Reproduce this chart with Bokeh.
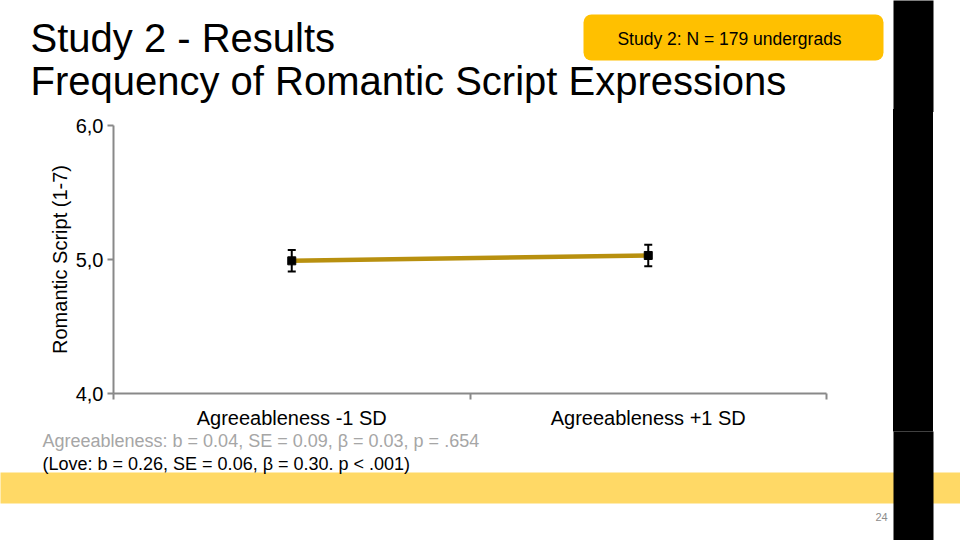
from bokeh.plotting import figure
from bokeh.layouts import column, row, Spacer
from bokeh.models import Range1d, FixedTicker, Whisker, TeeHead, ColumnDataSource
from bokeh.core.properties import value
from bokeh.embed import file_html
from bokeh.resources import INLINE

# ---- data ----
categories = ["Agreeableness -1 SD", "Agreeableness +1 SD"]
cat_pos = [0.5, 1.5]
means = [4.99, 5.03]
errors = [0.08, 0.08]
y_ticks = [4.0, 5.0, 6.0]
y_tick_labels = ["4,0", "5,0", "6,0"]
title_lines = ["Study 2 - Results", "Frequency of Romantic Script Expressions"]
sample_note = "Study 2: N = 179 undergrads"
stat_lines = ["Agreeableness: b = 0.04, SE = 0.09, β = 0.03,  p = .654",
              "(Love: b = 0.26, SE = 0.06, β = 0.30.  p < .001)"]
y_label = "Romantic Script (1-7)"
page_no = "24"

FONT = "Liberation Sans"
W, H = 960, 540
TOP_H = 112          # header strip height
MID_H = 319          # chart strip height
BOT_H = H - TOP_H - MID_H
CHART_W = 893        # chart figure width (black bar starts here)
BAR_W = 40
FL, FT, FR, FB = 113, 125, 826, 393   # chart frame in page pixels


def panel(width, height):
    f = figure(width=width, height=height, output_backend="svg", toolbar_location=None,
               x_range=Range1d(0, width), y_range=Range1d(height, 0),
               x_axis_location=None, y_axis_location=None,
               min_border_left=0, min_border_right=0, min_border_top=0, min_border_bottom=0)
    f.outline_line_color = None
    f.grid.visible = False
    f.background_fill_color = "white"
    f.border_fill_color = "white"
    return f


def txt(f, x, y, text, size, color="black", align="left"):
    f.text(x=[x], y=[y], text=[text], text_font=value(FONT), text_font_size=value(size),
           text_color=color, text_align=align, text_baseline="middle")


# ---- header ----
top = panel(W, TOP_H)
top.quad(left=[583], right=[883], top=[14], bottom=[60], fill_color="#FFC000",
         line_color=None, border_radius=8)
top.quad(left=[893], right=[893 + BAR_W], top=[-5], bottom=[TOP_H + 5], fill_color="black", line_color=None)
txt(top, 30, 37, title_lines[0], "40px")
txt(top, 30, 80.5, title_lines[1], "40px")
txt(top, 729, 38, sample_note, "17.5px", align="center")

# ---- chart ----
p = figure(width=CHART_W, height=MID_H, output_backend="svg", toolbar_location=None,
           x_range=Range1d(0, 2), y_range=Range1d(4, 6),
           min_border_left=FL, min_border_right=CHART_W - FR,
           min_border_top=FT - TOP_H, min_border_bottom=TOP_H + MID_H - FB)
p.outline_line_color = None
p.xgrid.visible = False
p.ygrid.visible = False

ax = p.yaxis[0]
ax.ticker = FixedTicker(ticks=y_ticks, minor_ticks=[])
ax.major_label_overrides = {t: l for t, l in zip(y_ticks, y_tick_labels)}
ax.axis_label = y_label
ax.axis_label_text_font = FONT
ax.axis_label_text_font_style = "normal"
ax.axis_label_text_font_size = "20px"
ax.axis_label_text_color = "black"
ax.axis_label_standoff = 2
ax.major_label_text_font = FONT
ax.major_label_text_font_size = "20px"
ax.major_label_text_color = "black"
ax.major_label_standoff = 4
ax.major_tick_out = 6
ax.major_tick_in = 0
ax.axis_line_color = "#898989"
ax.axis_line_width = 2
ax.major_tick_line_color = "#898989"
ax.major_tick_line_width = 2

xa = p.xaxis[0]
xa.ticker = FixedTicker(ticks=cat_pos, minor_ticks=[0, 1, 2])
xa.major_label_overrides = {c: l for c, l in zip(cat_pos, categories)}
xa.major_label_text_font = FONT
xa.major_label_text_font_size = "20px"
xa.major_label_text_color = "black"
xa.major_tick_line_color = None
xa.major_tick_out = 0
xa.major_tick_in = 0
xa.major_label_standoff = 7
xa.minor_tick_out = 6
xa.minor_tick_in = 0
xa.minor_tick_line_color = "#898989"
xa.minor_tick_line_width = 2
xa.axis_line_color = "#898989"
xa.axis_line_width = 2

src = ColumnDataSource(dict(x=cat_pos, y=means,
                            lo=[m - e for m, e in zip(means, errors)],
                            hi=[m + e for m, e in zip(means, errors)]))
p.line("x", "y", source=src, line_color="#B8900F", line_width=4.5)
p.add_layout(Whisker(source=src, base="x", lower="lo", upper="hi", dimension="height",
                     line_color="black", line_width=2,
                     lower_head=TeeHead(size=8, line_color="black", line_width=2),
                     upper_head=TeeHead(size=8, line_color="black", line_width=2)))
p.scatter("x", "y", source=src, marker="square", size=8, fill_color="black", line_color="black")

side = Spacer(width=BAR_W, height=MID_H,
              styles={"background-color": "black",
                      "box-shadow": "0 3px 0 black, 0 -3px 0 black"})
gap = Spacer(width=W - CHART_W - BAR_W, height=MID_H)

# ---- footer ----
bot = panel(W, BOT_H)
y0 = TOP_H + MID_H
bot.quad(left=[-5], right=[W + 5], top=[472 - y0], bottom=[503 - y0], fill_color="#FFD966", line_color=None)
bot.quad(left=[893], right=[893 + BAR_W], top=[-5], bottom=[BOT_H + 5], fill_color="black", line_color=None)
txt(bot, 42, 440 - y0, stat_lines[0], "18px", color="#A6A6A6")
txt(bot, 42, 463 - y0, stat_lines[1], "18px")
txt(bot, 881, 516 - y0, page_no, "11px", color="#8C8C8C", align="center")

layout = column(top, row(p, side, gap), bot)
open("out.html", "w").write(file_html(layout, INLINE))
